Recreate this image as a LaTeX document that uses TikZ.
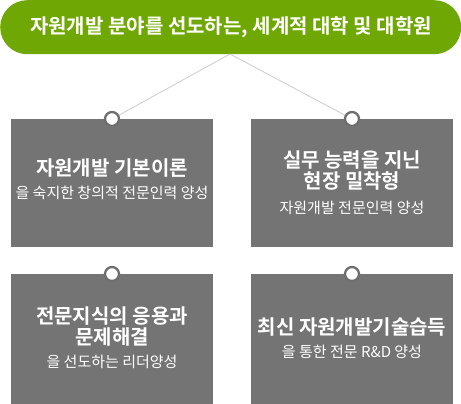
\documentclass[tikz,border=0pt]{standalone}
\usepackage{fontspec}
\setmainfont{Noto Sans CJK KR}
\newfontfamily\krb{Noto Sans CJK KR Bold}
\definecolor{pillgreen}{HTML}{6FA804}
\definecolor{boxgray}{HTML}{747474}
\definecolor{ringgray}{HTML}{6E6E6E}
\definecolor{linegray}{HTML}{D0D0D0}
\begin{document}
\begin{tikzpicture}[x=1pt,y=-1pt,
  card/.style={fill=boxgray, draw=none, minimum width=202pt, minimum height=#1, inner sep=0pt},
  ttl/.style={text=white, font=\krb\fontsize{20}{22}\selectfont, align=center},
  subt/.style={text=white, font=\fontsize{15}{17}\selectfont, align=center},
  ring/.style={circle, fill=white, draw=ringgray, line width=2.3pt, minimum size=14pt, inner sep=0pt},
  conn/.style={draw=linegray, line width=0.9pt}]
\useasboundingbox (0,0) rectangle (461,404);
% pill
\node[fill=pillgreen, rounded corners=27pt, minimum width=461pt, minimum height=54pt, inner sep=0pt, anchor=north west] (pill) at (0,0) {};
\node[text=white, font=\krb\fontsize{20}{22}\selectfont] (ptext) at (231,27) {자원개발 분야를 선도하는, 세계적 대학 및 대학원};
% cards
\node[card=128pt, anchor=north west] (tl) at (11,119) {};
\node[card=128pt, anchor=north west] (tr) at (251,119) {};
\node[card=130pt, anchor=north west] (bl) at (11,274) {};
\node[card=130pt, anchor=north west] (br) at (251,274) {};
% connectors
\coordinate (ptop) at (230,54);
\coordinate (ctl) at (112,119);
\coordinate (ctr) at (352,119);
\draw[conn] (ptop) -- (ctl);
\draw[conn] (ptop) -- (ctr);
\node[ring] (rtl) at (ctl) {};
\node[ring] (rtr) at (ctr) {};
\node[ring] (rbl) at (112,274) {};
\node[ring] (rbr) at (352,274) {};
% texts
\node[ttl] (tlt) at (112,168) {자원개발 기본이론};
\node[subt] (tls) at (112,193) {을 숙지한 창의적 전문인력 양성};
\node[ttl] (trt1) at (352,160) {실무 능력을 지닌};
\node[ttl] (trt2) at (352,181) {현장 밀착형};
\node[subt] (trs) at (352,208) {자원개발 전문인력 양성};
\node[ttl] (blt1) at (112,316) {전문지식의 응용과};
\node[ttl] (blt2) at (112,337) {문제해결};
\node[subt] (bls) at (112,362) {을 선도하는 리더양성};
\node[ttl] (brt) at (352,327) {최신 자원개발기술습득};
\node[subt] (brs) at (352,352) {을 통한 전문 R\&D 양성};
\end{tikzpicture}
\end{document}
